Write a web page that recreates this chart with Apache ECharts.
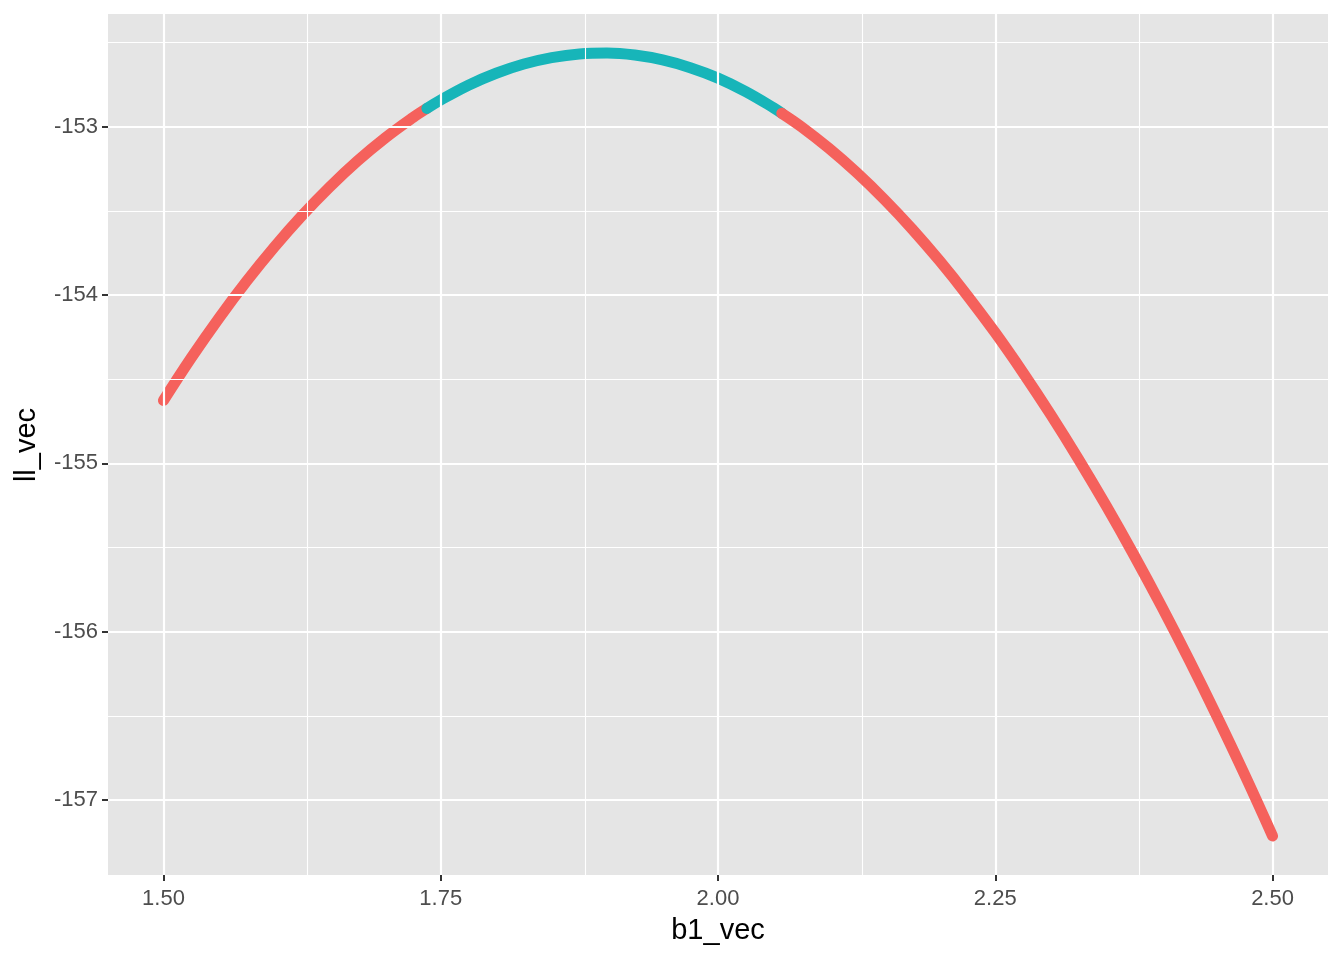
<!DOCTYPE html>
<html>
<head>
<meta charset="utf-8">
<script src="https://cdn.jsdelivr.net/npm/echarts@6/dist/echarts.min.js"></script>
<style>
html,body{margin:0;padding:0;background:#fff;}
#chart{width:1344px;height:960px;}
</style>
</head>
<body>
<div id="chart"></div>
<script>
// ---- data ----
const b1_vec = [1.500,1.525,1.550,1.575,1.600,1.625,1.650,1.675,1.700,1.725,
                1.750,1.775,1.800,1.825,1.850,1.875,1.900,1.925,1.950,1.975,
                2.000,2.025,2.050,2.075,2.100,2.125,2.150,2.175,2.200,2.225,
                2.250,2.275,2.300,2.325,2.350,2.375,2.400,2.425,2.450,2.475,2.500];
const ll_vec = [-154.626,-154.373,-154.137,-153.917,-153.714,-153.527,-153.357,-153.203,-153.066,-152.945,
                -152.841,-152.753,-152.682,-152.627,-152.589,-152.567,-152.562,-152.574,-152.603,-152.649,
                -152.711,-152.791,-152.887,-152.999,-153.128,-153.272,-153.432,-153.607,-153.798,-154.004,
                -154.224,-154.460,-154.710,-154.974,-155.252,-155.544,-155.850,-156.170,-156.504,-156.851,-157.213];
// interval (teal) bounds and the curve value there
const ci_b1 = [1.7375, 2.0575];
const ci_ll = [-152.891, -152.920];
const xTicks = [1.50, 1.75, 2.00, 2.25, 2.50];
const xMinor = [1.625, 1.875, 2.125, 2.375];
const yTicks = [-157, -156, -155, -154, -153];
const yMinor = [-156.5, -155.5, -154.5, -153.5, -152.5];

const RED = '#F5615C', TEAL = '#17B5B9';

const pts = b1_vec.map((x, i) => [x, ll_vec[i]]);
const lowPt = [ci_b1[0], ci_ll[0]], upPt = [ci_b1[1], ci_ll[1]];
const left = pts.filter(p => p[0] < ci_b1[0]).concat([lowPt]);
const mid = [lowPt].concat(pts.filter(p => p[0] > ci_b1[0] && p[0] < ci_b1[1])).concat([upPt]);
const right = [upPt].concat(pts.filter(p => p[0] > ci_b1[1]));

const xMin = 1.45, xMax = 2.55;
const yMin = -157.445, yMax = -152.33;

const gridLines = [];
xTicks.forEach(v => gridLines.push({xAxis: v, lineStyle: {width: 2.2}}));
xMinor.forEach(v => gridLines.push({xAxis: v, lineStyle: {width: 1.1}}));
yTicks.forEach(v => gridLines.push({yAxis: v, lineStyle: {width: 2.2}}));
yMinor.forEach(v => gridLines.push({yAxis: v, lineStyle: {width: 1.1}}));

const curveSeries = (data, color, z) => ({
  type: 'line', data: data, smooth: 0.4, showSymbol: false, symbol: 'none',
  z: z, silent: true,
  lineStyle: {color: color, width: 11, cap: 'round', join: 'round'}
});

const FONT = 'Liberation Sans, Arial, Helvetica, sans-serif';
const chart = echarts.init(document.getElementById('chart'), null, {renderer: 'canvas'});
chart.setOption({
  animation: false,
  backgroundColor: '#ffffff',
  grid: {left: 108, right: 16, top: 14, bottom: 85, show: true,
         backgroundColor: '#E5E5E5', borderWidth: 0},
  xAxis: {
    type: 'value', min: xMin, max: xMax,
    axisLine: {show: false},
    splitLine: {show: false},
    axisTick: {show: true, customValues: xTicks, length: 6, lineStyle: {color: '#333333', width: 2}},
    axisLabel: {customValues: xTicks, margin: 13, color: '#4D4D4D', fontSize: 22, fontFamily: FONT,
                formatter: v => v.toFixed(2)}
  },
  yAxis: {
    type: 'value', min: yMin, max: yMax,
    axisLine: {show: false},
    splitLine: {show: false},
    axisTick: {show: true, customValues: yTicks, length: 6, lineStyle: {color: '#333333', width: 2}},
    axisLabel: {customValues: yTicks, margin: 10, color: '#4D4D4D', fontSize: 22, fontFamily: FONT,
                formatter: v => String(v)}
  },
  graphic: [
    {type: 'text', x: 718, y: 931, style: {text: 'b1_vec', x: 0, y: 0, fill: '#000',
      font: '29px ' + FONT, textAlign: 'center', textVerticalAlign: 'middle'}},
    {type: 'text', x: 27, y: 445, rotation: Math.PI / 2,
      style: {text: 'll_vec', x: 0, y: 0, fill: '#000', font: '29px ' + FONT,
      textAlign: 'center', textVerticalAlign: 'middle'}}
  ],
  series: [
    {type: 'line', data: [], z: 1, silent: true,
     markLine: {silent: true, symbol: ['none', 'none'], label: {show: false},
       lineStyle: {color: '#FFFFFF', type: 'solid'}, data: gridLines, animation: false}},
    curveSeries(left, RED, 3),
    curveSeries(mid, TEAL, 4),
    curveSeries(right, RED, 5)
  ]
});
</script>
</body>
</html>
